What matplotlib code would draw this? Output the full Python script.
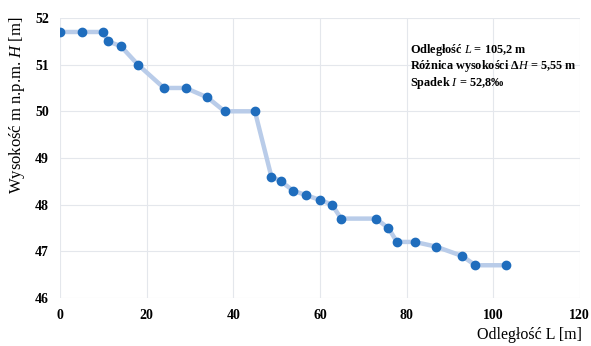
import matplotlib
matplotlib.use('Agg')
import matplotlib.pyplot as plt

# Dane profilu
odleglosc = [0, 5, 10, 11, 14, 18, 24, 29, 34, 38, 45, 48.8, 51, 53.8, 56.9, 60, 62.8,
             64.9, 72.9, 75.8, 77.8, 81.9, 86.8, 92.8, 95.9, 103]
wysokosc = [51.7, 51.7, 51.7, 51.5, 51.4, 51.0, 50.5, 50.5, 50.3, 50.0, 50.0, 48.6, 48.5,
            48.3, 48.2, 48.1, 48.0, 47.7, 47.7, 47.5, 47.2, 47.2, 47.1, 46.9, 46.7, 46.7]
x_ticks = [0, 20, 40, 60, 80, 100, 120]
y_ticks = [46, 47, 48, 49, 50, 51, 52]
opis = ['Odległość $\\mathit{L}$ = 105,2 m',
        'Różnica wysokości Δ$\\mathit{H}$ = 5,55 m',
        'Spadek $\\mathit{I}$ = 52,8‰']

plt.rcParams['font.family'] = ['Liberation Serif', 'DejaVu Serif']
plt.rcParams['mathtext.fontset'] = 'custom'
plt.rcParams['mathtext.rm'] = 'Liberation Serif'
plt.rcParams['mathtext.it'] = 'Liberation Serif:italic'

fig = plt.figure(figsize=(5.91, 3.46), dpi=100)
ax = fig.add_axes([0.1015, 0.139, 0.8795, 0.809])

ax.plot(odleglosc, wysokosc, color='#b9cce9', linewidth=3.2, zorder=2)
ax.plot(odleglosc, wysokosc, 'o', color='#1f6dbd', markersize=6, zorder=3)

ax.set_xlim(0, 120)
ax.set_ylim(46, 52)
ax.set_xticks(x_ticks)
ax.set_yticks(y_ticks)
ax.grid(True, color='#e4e7ec', linewidth=0.8)
ax.set_axisbelow(True)
for s in ax.spines.values():
    s.set_visible(False)
ax.tick_params(length=0, labelsize=10, pad=8)
for lab in ax.get_xticklabels() + ax.get_yticklabels():
    lab.set_fontweight('bold')

ax.set_ylabel('Wysokość m n.p.m. $\\mathit{H}$ [m]', fontsize=12)
ax.yaxis.set_label_coords(-0.064, 0.69)
fig.text(0.984, 0.008, 'Odległość L [m]', fontsize=11.5, ha='right', va='bottom')

# opis w prawym górnym rogu, każda linia osobno
for i, linia in enumerate(opis):
    ax.text(80.7, 51.32 - i * 0.355, linia, fontsize=8.8, va='center', ha='left',
            fontweight='bold')

fig.savefig('out.png', dpi=100)
